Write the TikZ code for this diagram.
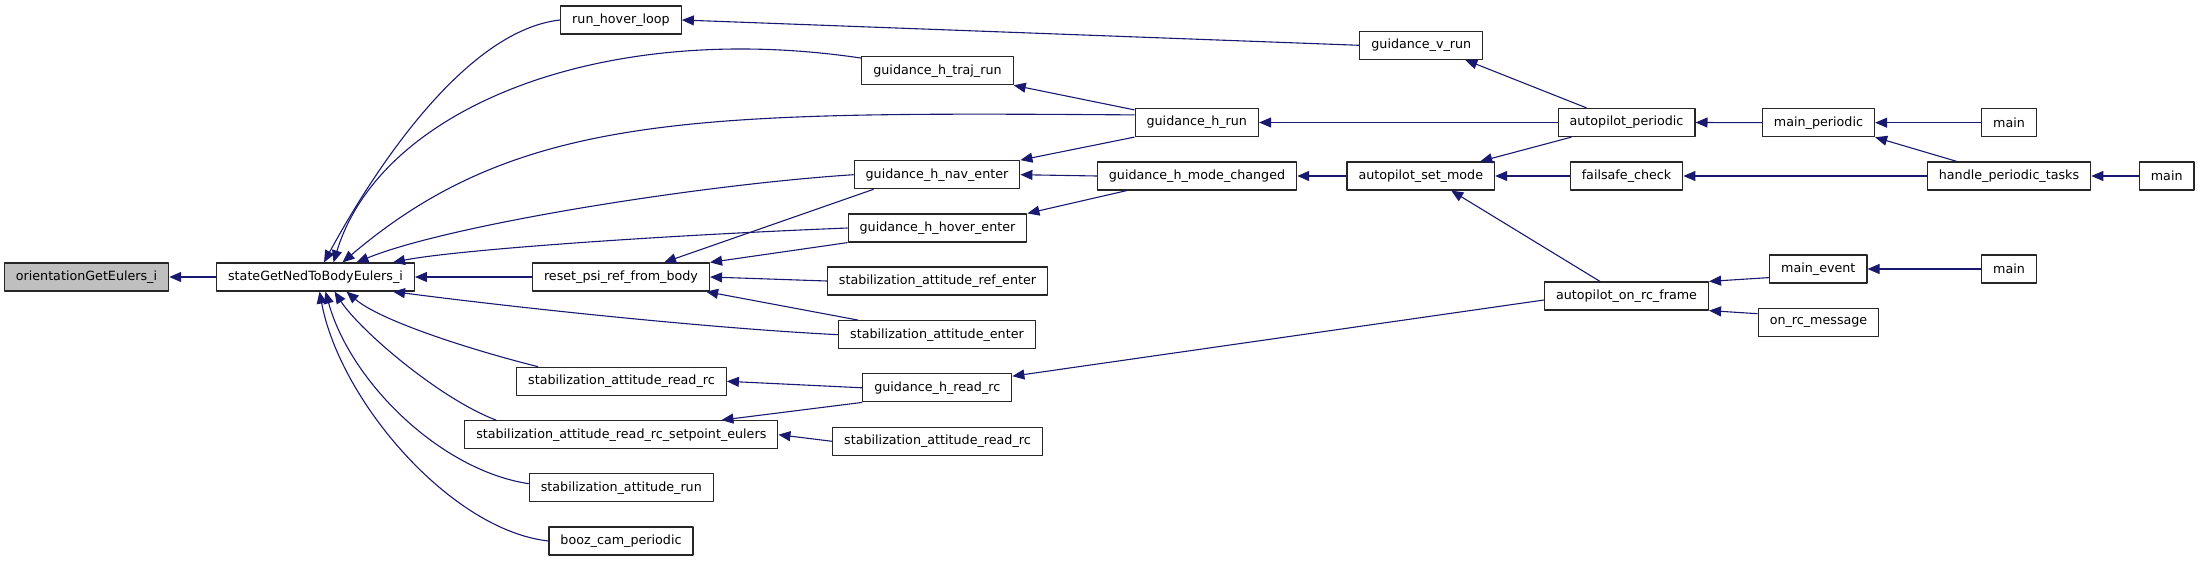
\documentclass[tikz,border=0pt]{standalone}
\usepackage{fontspec}
\setmainfont{DejaVu Sans}
\usetikzlibrary{arrows.meta}
\definecolor{navy}{HTML}{191970}
\definecolor{grey75}{HTML}{BFBFBF}
\tikzset{
	fn/.style={draw=black!85,line width=1.2pt,fill=white,inner xsep=11.5pt,inner ysep=0pt,minimum height=28pt,font=\fontsize{12.7pt}{15pt}\selectfont},
	root/.style={fn,fill=grey75},
	call/.style={draw=navy,line width=1.1pt,-{Triangle[length=12pt,width=10pt]}}
}
\begin{document}
\begin{tikzpicture}[x=1pt,y=-1pt,line join=round]
	\useasboundingbox (0,0) rectangle (2200,561);
	\node[root] (orient) at (86.5,277) {orientationGetEulers\_i};
	\node[fn] (sgned) at (315.5,277) {stateGetNedToBodyEulers\_i};
	\node[fn] (rhl) at (621,20) {run\_hover\_loop};
	\node[fn] (reset) at (621,277) {reset\_psi\_ref\_from\_body};
	\node[fn] (srr2) at (621.5,381.3) {stabilization\_attitude\_read\_rc};
	\node[fn] (sp) at (621.3,434.7) {stabilization\_attitude\_read\_rc\_setpoint\_eulers};
	\node[fn] (sar) at (621.3,487.7) {stabilization\_attitude\_run};
	\node[fn] (booz) at (621,541) {booz\_cam\_periodic};
	\node[fn] (traj) at (937.5,70.7) {guidance\_h\_traj\_run};
	\node[fn] (nav) at (937,174.7) {guidance\_h\_nav\_enter};
	\node[fn] (hover) at (937.5,228) {guidance\_h\_hover\_enter};
	\node[fn] (ref) at (937.5,281) {stabilization\_attitude\_ref\_enter};
	\node[fn] (se) at (937,334.7) {stabilization\_attitude\_enter};
	\node[fn] (hrr) at (937.3,387.8) {guidance\_h\_read\_rc};
	\node[fn] (srr3) at (937.5,441.3) {stabilization\_attitude\_read\_rc};
	\node[fn] (ghr) at (1196.8,122.5) {guidance\_h\_run};
	\node[fn] (mc) at (1197,176) {guidance\_h\_mode\_changed};
	\node[fn] (gvr) at (1421.3,45.3) {guidance\_v\_run};
	\node[fn] (sm) at (1420.8,176) {autopilot\_set\_mode};
	\node[fn] (ap) at (1626.5,122.5) {autopilot\_periodic};
	\node[fn] (fs) at (1626.5,176) {failsafe\_check};
	\node[fn] (orf) at (1626.5,296) {autopilot\_on\_rc\_frame};
	\node[fn] (mp) at (1818.5,122.7) {main\_periodic};
	\node[fn] (me) at (1818.3,269) {main\_event};
	\node[fn] (orm) at (1818.5,322.7) {on\_rc\_message};
	\node[fn] (mainA) at (2009,122.7) {main};
	\node[fn] (hpt) at (2009,176) {handle\_periodic\_tasks};
	\node[fn] (mainB) at (2009,269) {main};
	\node[fn] (mainC) at (2166.7,176) {main};
	
	\foreach \a/\b in {sgned/orient,reset/sgned,mc/nav,ref/reset,hrr/srr2,srr3/sp,gvr/rhl,ap/ghr,sm/mc,fs/sm,mp/ap,hpt/fs,mainA/mp,mainC/hpt,mainB/me}
		\draw[call] (\a.west) -- (\b.east);
	
	\draw[call] (rhl.west) .. controls +(-91,10) and +(56,-103) .. ([xshift=8.5pt]sgned.north);
	\draw[call] ([yshift=-2pt]traj.north west) .. controls +(-262,-39) and +(46.5,-153) .. ([xshift=18pt]sgned.north);
	\draw[call] ([yshift=-7pt]ghr.north west) .. controls +(-435,-3) and +(177.5,-151) .. ([xshift=27pt]sgned.north);
	\draw[call] (nav.west) .. controls +(-153,10) and +(93.5,-38) .. ([xshift=41pt]sgned.north);
	\draw[call] (hover.west) .. controls +(-200,8) and +(60,-12) .. ([xshift=-22pt]sgned.north east);
	\draw[call] (se.west) .. controls +(-139,-7) and +(107,14) .. ([xshift=-22pt]sgned.south east);
	\draw[call] ([xshift=22pt]srr2.north west) .. controls +(-68,-17) and +(33.5,29) .. ([xshift=31pt]sgned.south);
	\draw[call] ([xshift=32pt]sp.north west) .. controls +(-56,-21) and +(25.5,39) .. ([xshift=19pt]sgned.south);
	\draw[call] ([yshift=4pt]sar.west) .. controls +(-89.6,-13.7) and +(24.5,89) .. ([xshift=10pt]sgned.south);
	\draw[call] (booz.west) .. controls +(-98,-11) and +(20.5,109) .. ([xshift=4pt]sgned.south);
	
	\draw[call] ([yshift=-2pt]ghr.north west) -- (traj.south east);
	\draw[call] (ghr.south west) -- (nav.north east);
	\draw[call] ([xshift=30pt]mc.south west) -- (hover.north east);
	\draw[call] ([xshift=20pt]nav.south west) -- ([xshift=-46pt]reset.north east);
	\draw[call] (hover.south west) -- (reset.north east);
	\draw[call] ([xshift=20pt]se.north west) -- ([xshift=-4pt]reset.south east);
	\draw[call] (hrr.south west) -- ([xshift=-57pt]sp.north east);
	\draw[call] ([xshift=29pt]ap.north west) -- ([xshift=-18pt]gvr.south east);
	\draw[call] ([xshift=14pt]ap.south west) -- ([xshift=-15pt]sm.north east);
	\draw[call] ([xshift=56pt]orf.north west) -- ([xshift=-44pt]sm.south east);
	\draw[call] ([yshift=-4pt]orf.west) -- ([yshift=-3pt]hrr.north east);
	\draw[call] ([xshift=30pt]hpt.north west) -- (mp.south east);
	\draw[call] ([yshift=6pt]me.south west) -- (orf.north east);
	\draw[call] ([yshift=9pt]orm.west) -- (orf.south east);
\end{tikzpicture}
\end{document}
